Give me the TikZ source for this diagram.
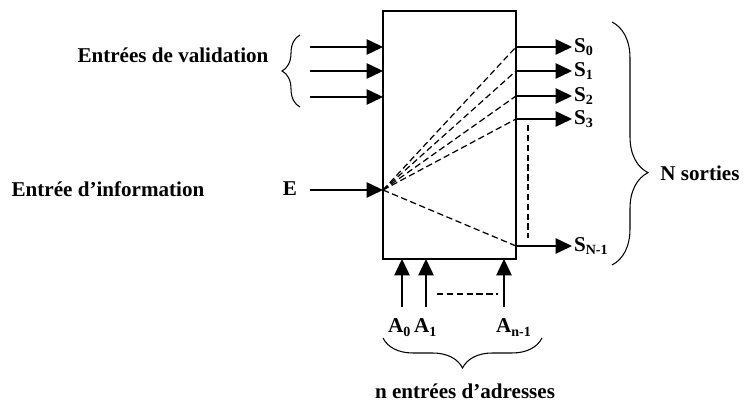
\documentclass[tikz,border=0pt]{standalone}
\usepackage{fontspec}
\setmainfont{Liberation Serif}
\usetikzlibrary{arrows.meta,decorations.pathreplacing,positioning}
\begin{document}
\begin{tikzpicture}[
    x=0.02cm, y=-0.02cm,
    every node/.style={font=\bfseries\fontsize{12}{14}\selectfont, inner sep=1pt},
    wire/.style={line width=0.8pt, -{Triangle[length=0.33cm,width=0.31cm]}},
    trace/.style={line width=0.7pt, dash pattern=on 3.6pt off 2pt},
    accolade/.style={decorate, line width=0.6pt, decoration={brace, amplitude=#1}}
  ]
  \useasboundingbox (0,0) rectangle (751,401);

  % demultiplexer box
  \node[draw, line width=0.9pt, inner sep=0pt, outer sep=0pt,
        minimum width=2.66cm, minimum height=4.96cm] (demux) at (449.5,135) {};

  % information input
  \coordinate (ein) at (310,190);
  \coordinate (e) at (383,190);
  \draw[wire] (ein) -- (e);
  \node (elab) at (290,189) {E};
  \node (info) at (108,189) {Entrée d’information};

  % validation inputs
  \foreach \y [count=\i from 0] in {47,71,97} {
    \coordinate (v\i) at (310,\y);
    \draw[wire] (v\i) -- (v\i -| demux.west);
  }
  \coordinate (bv1) at (300,107);
  \coordinate (bv2) at (300,35);
  \draw[accolade=0.36cm] (bv1) -- (bv2);
  \node (valid) at (173,55) {Entrées de validation};

  % outputs
  \foreach \y [count=\i from 0] in {47,71,96,119} {
    \coordinate (s\i) at (516,\y);
    \coordinate (t\i) at (572,\y);
    \draw[wire] (s\i) -- (t\i);
    \node[anchor=west] (S\i) at (t\i) {S\textsubscript{\i}};
    \draw[trace] (e) -- (s\i);
  }
  \coordinate (sN) at (516,246);
  \coordinate (tN) at (572,246);
  \draw[wire] (sN) -- (tN);
  \node[anchor=west] (SN) at (tN) {S\textsubscript{N-1}};
  \draw[trace] (e) -- (sN);
  \coordinate (g1) at (528,125);
  \coordinate (g2) at (528,238);
  \draw[trace] (g1) -- (g2);

  \coordinate (bs1) at (612,22);
  \coordinate (bs2) at (612,265);
  \draw[accolade=0.72cm, decoration={aspect=0.62}] (bs1) -- (bs2);
  \node (sorties) at (700,173) {N sorties};

  % address inputs
  \foreach \x/\lx/\lab [count=\i] in {402/386/0, 426/412/1, 504/494/{n-1}} {
    \coordinate (a\i) at (\x,307);
    \draw[wire] (a\i) -- (a\i |- demux.south);
    \node[anchor=base west] (A\i) at (\lx,333) {A\textsubscript{\lab}};
  }
  \coordinate (d1) at (437,294);
  \coordinate (d2) at (498,294);
  \draw[trace] (d1) -- (d2);

  \coordinate (ba1) at (542,338);
  \coordinate (ba2) at (383,338);
  \draw[accolade=0.6cm] (ba1) -- (ba2);
  \node (adr) at (465,391) {n entrées d’adresses};

\end{tikzpicture}
\end{document}
